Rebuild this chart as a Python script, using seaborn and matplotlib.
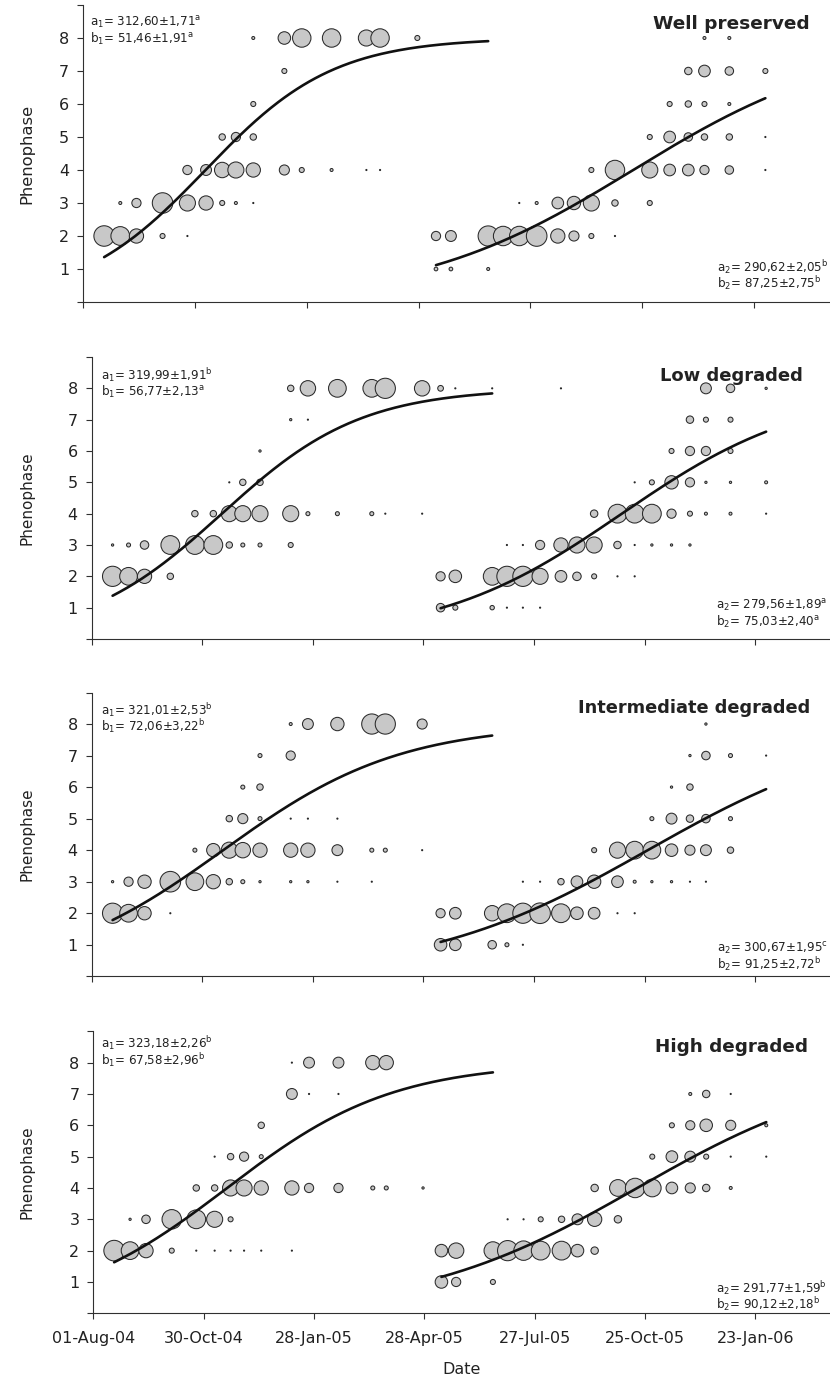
import numpy as np
import pandas as pd
import matplotlib
matplotlib.use("Agg")
import matplotlib.pyplot as plt
import matplotlib.dates as mdates
from matplotlib.ticker import FixedLocator, FixedFormatter
import seaborn as sns

# ---------------------------------------------------------------------------
# Sampling visits shared by the four sites
SAMPLE_DATES = ["2004-08-18", "2004-08-31", "2004-09-13", "2004-10-04", "2004-10-24",
                "2004-11-08", "2004-11-21", "2004-12-02", "2004-12-16", "2005-01-10",
                "2005-01-24", "2005-02-17", "2005-03-17", "2005-03-28", "2005-04-27",
                "2005-05-12", "2005-05-24", "2005-06-23", "2005-07-05", "2005-07-18",
                "2005-08-01", "2005-08-18", "2005-08-31", "2005-09-14", "2005-10-03",
                "2005-10-17", "2005-10-31", "2005-11-16", "2005-12-01", "2005-12-14",
                "2006-01-03", "2006-02-01"]

SITES = ["Well preserved", "Low degraded", "Intermediate degraded", "High degraded"]

# Share of plants (%) in each phenophase at each visit (visit index, phenophase, share)
WELL_VISIT = [8, 9, 10, 11, 12, 13, 14, 9, 8, 6, 7, 8,
              4, 5, 6, 7, 8, 9, 10, 11, 12, 13,
              1, 2, 3, 4, 5, 6, 7, 8, 0, 1, 2, 3, 4,
              29, 30, 28, 29, 30, 31, 27, 28, 29, 30,
              26, 27, 28, 29, 30, 31, 23, 24, 26, 27, 28, 29, 30, 31,
              19, 20, 21, 22, 23, 24, 26,
              15, 16, 17, 18, 19, 20, 21, 22, 23, 24, 15, 16, 17]
WELL_PHASE = [8, 8, 8, 8, 8, 8, 8, 7, 6, 5, 5, 5,
              4, 4, 4, 4, 4, 4, 4, 4, 4, 4,
              3, 3, 3, 3, 3, 3, 3, 3, 2, 2, 2, 2, 2,
              8, 8, 7, 7, 7, 7, 6, 6, 6, 6,
              5, 5, 5, 5, 5, 5, 4, 4, 4, 4, 4, 4, 4, 4,
              3, 3, 3, 3, 3, 3, 3,
              2, 2, 2, 2, 2, 2, 2, 2, 2, 2, 1, 1, 1]
WELL_SHARE = [2.1, 37, 80, 80, 61, 80, 6, 6, 6, 9.7, 20, 9.7,
              20, 28, 56, 61, 48, 24, 6, 2.1, 0.3, 0.3,
              2.1, 20, 99, 61, 48, 6, 2.1, 0.3, 99, 83, 48, 6, 0.3,
              2.1, 2.1, 13, 32, 17, 6, 6, 9.7, 6, 2.1,
              6, 32, 17, 9.7, 9.7, 0.3, 6, 89, 61, 32, 32, 20, 17, 0.3,
              0.3, 2.1, 32, 42, 61, 9.7, 6,
              20, 28, 96, 89, 89, 100, 48, 24, 6, 0.3, 3.2, 3.2, 2.1]

LOW_VISIT = [9, 10, 11, 12, 13, 14, 15, 16, 9, 10, 8, 6, 7, 8,
             4, 5, 6, 7, 8, 9, 10, 11, 12, 13, 14,
             0, 1, 2, 3, 4, 5, 6, 7, 8, 9, 0, 1, 2, 3,
             17, 21, 29, 30, 31, 28, 29, 30, 27, 28, 29, 30,
             25, 26, 27, 28, 29, 30, 31, 23, 24, 25, 26, 27, 28, 29, 30, 31,
             18, 19, 20, 21, 22, 23, 24, 25, 26, 27, 28,
             15, 16, 17, 18, 19, 20, 21, 22, 23, 24, 25,
             15, 16, 17, 18, 19, 20]
LOW_PHASE = [8, 8, 8, 8, 8, 8, 8, 8, 7, 7, 6, 5, 5, 5,
             4, 4, 4, 4, 4, 4, 4, 4, 4, 4, 4,
             3, 3, 3, 3, 3, 3, 3, 3, 3, 3, 2, 2, 2, 2,
             8, 8, 8, 8, 8, 7, 7, 7, 6, 6, 6, 6,
             5, 5, 5, 5, 5, 5, 5, 4, 4, 4, 4, 4, 4, 4, 4, 4,
             3, 3, 3, 3, 3, 3, 3, 3, 3, 3, 3,
             2, 2, 2, 2, 2, 2, 2, 2, 2, 2, 2,
             1, 1, 1, 1, 1, 1]
LOW_SHARE = [9.7, 56, 74, 74, 96, 56, 7.7, 0.3, 1.2, 0.3, 1.2, 0.3, 9.7, 9.7,
             9.7, 9.7, 61, 61, 61, 61, 3.8, 3.8, 3.8, 0.3, 0.3,
             1.2, 3.8, 17, 83, 83, 83, 9.7, 3.8, 3.8, 6, 96, 74, 48, 9.7,
             0.3, 0.3, 28, 17, 1.2, 13, 6, 6, 6, 20, 20, 6,
             0.3, 6, 42, 20, 1.2, 1.2, 2.1, 13, 83, 83, 83, 20, 6, 2.1, 2.1, 0.3,
             0.3, 0.3, 20, 48, 61, 61, 13, 0.3, 1.2, 1.2, 1.2,
             20, 37, 74, 96, 96, 61, 32, 17, 6, 0.3, 0.3,
             17, 6, 4.5, 0.3, 0.3, 0.3]

INTER_VISIT = [9, 10, 11, 12, 13, 14, 8, 9, 7, 8, 6, 7, 8, 9, 10, 11,
               4, 5, 6, 7, 8, 9, 10, 11, 12, 13, 14,
               0, 1, 2, 3, 4, 5, 6, 7, 8, 9, 10, 11, 12, 0, 1, 2, 3,
               29, 28, 29, 30, 31, 27, 28, 26, 27, 28, 29, 30,
               23, 24, 25, 26, 27, 28, 29, 30,
               19, 20, 21, 22, 23, 24, 25, 26, 27, 28, 29,
               15, 16, 17, 18, 19, 20, 21, 22, 23, 24, 25,
               15, 16, 17, 18, 19]
INTER_PHASE = [8, 8, 8, 8, 8, 8, 7, 7, 6, 6, 5, 5, 5, 5, 5, 5,
               4, 4, 4, 4, 4, 4, 4, 4, 4, 4, 4,
               3, 3, 3, 3, 3, 3, 3, 3, 3, 3, 3, 3, 3, 2, 2, 2, 2,
               8, 7, 7, 7, 7, 6, 6, 5, 5, 5, 5, 5,
               4, 4, 4, 4, 4, 4, 4, 4,
               3, 3, 3, 3, 3, 3, 3, 3, 3, 3, 3,
               2, 2, 2, 2, 2, 2, 2, 2, 2, 2, 2,
               1, 1, 1, 1, 1]
INTER_SHARE = [2.1, 28, 42, 96, 96, 24, 3.8, 20, 3.8, 9.7, 9.7, 24, 3.8, 0.3, 0.3, 0.3,
               3.8, 42, 61, 56, 48, 48, 48, 28, 3.8, 3.8, 0.3,
               1.2, 20, 42, 100, 74, 48, 9.7, 3.8, 1.2, 1.2, 1.2, 0.3, 0.3, 96, 74, 42, 0.3,
               1.2, 1.2, 17, 3.8, 0.3, 1.2, 9.7, 3.8, 28, 13, 17, 3.8,
               6, 61, 74, 74, 37, 24, 28, 9.7,
               0.3, 0.3, 9.7, 32, 42, 32, 2.1, 1.2, 1.2, 0.3, 0.3,
               20, 32, 56, 83, 96, 100, 83, 37, 32, 0.3, 0.3,
               37, 32, 17, 3.8, 0.3]

HIGH_VISIT = [9, 10, 11, 12, 13, 9, 10, 11, 8, 5, 6, 7, 8,
              4, 5, 6, 7, 8, 9, 10, 11, 12, 13, 14,
              1, 2, 3, 4, 5, 6, 0, 1, 2, 3, 4, 5, 6, 7, 8, 9,
              28, 29, 30, 27, 28, 29, 30, 31, 26, 27, 28, 29, 30, 31,
              23, 24, 25, 26, 27, 28, 29, 30,
              18, 19, 20, 21, 22, 23, 24,
              15, 16, 17, 18, 19, 20, 21, 22, 23, 15, 16, 17]
HIGH_PHASE = [8, 8, 8, 8, 8, 7, 7, 7, 6, 5, 5, 5, 5,
              4, 4, 4, 4, 4, 4, 4, 4, 4, 4, 4,
              3, 3, 3, 3, 3, 3, 2, 2, 2, 2, 2, 2, 2, 2, 2, 2,
              7, 7, 7, 6, 6, 6, 6, 6, 5, 5, 5, 5, 5, 5,
              4, 4, 4, 4, 4, 4, 4, 4,
              3, 3, 3, 3, 3, 3, 3,
              2, 2, 2, 2, 2, 2, 2, 2, 2, 1, 1, 1]
HIGH_SHARE = [0.3, 28, 28, 48, 48, 28, 0.3, 0.3, 9.7, 0.3, 9.7, 20, 3.8,
              9.7, 9.7, 61, 61, 48, 48, 20, 20, 3.8, 3.8, 1.2,
              1.2, 17, 89, 83, 61, 6, 100, 74, 48, 6, 0.3, 0.3, 0.3, 0.3, 0.3, 0.3,
              2.1, 13, 0.3, 6, 20, 37, 24, 2.1, 6, 32, 28, 6, 0.3, 0.3,
              13, 66, 89, 74, 32, 24, 13, 2.1,
              0.3, 0.3, 6, 9.7, 28, 48, 13,
              37, 56, 74, 96, 89, 83, 83, 37, 13, 37, 20, 6]

# Logistic fits  y = 8 / (1 + exp(-(doy - a) / b)), doy counted from 1 January
A1 = [312.60, 319.99, 321.01, 323.18]
A1_SE = [1.71, 1.91, 2.53, 2.26]
A1_GROUP = ["a", "b", "b", "b"]
B1 = [51.46, 56.77, 72.06, 67.58]
B1_SE = [1.91, 2.13, 3.22, 2.96]
B1_GROUP = ["a", "a", "b", "b"]
A2 = [290.62, 279.56, 300.67, 291.77]
A2_SE = [2.05, 1.89, 1.95, 1.59]
A2_GROUP = ["b", "a", "c", "b"]
B2 = [87.25, 75.03, 91.25, 90.12]
B2_SE = [2.75, 2.40, 2.72, 2.18]
B2_GROUP = ["b", "a", "b", "b"]
MAX_PHASE = 8

SEASON_START = [SAMPLE_DATES[0], SAMPLE_DATES[15]]
SEASON_END = [SAMPLE_DATES[17], SAMPLE_DATES[31]]
SEASON_YEAR = [2004, 2005]

X_TICKS = ["2004-08-01", "2004-10-30", "2005-01-28", "2005-04-28",
           "2005-07-27", "2005-10-25", "2006-01-23"]
X_RANGE = ["2004-08-01", "2006-03-25"]

# ---------------------------------------------------------------------------
sns.set_theme(style="ticks")
plt.rcParams["font.family"] = ["DejaVu Sans"]
plt.rcParams["mathtext.fontset"] = "dejavusans"
plt.rcParams["lines.solid_capstyle"] = "round"

INK = "#222222"
AXIS = "#303030"

W, H = 830, 1382
fig = plt.figure(figsize=(W / 100, H / 100), dpi=100)

# panel frames in pixels: left, top, right, bottom
BOXES = [(83.0, 5.0, 830.0, 302.0),
         (91.7, 357.0, 830.0, 639.0),
         (91.7, 692.5, 830.0, 976.3),
         (93.3, 1031.3, 830.0, 1313.3)]
# text anchors in pixels (x, first baseline, second baseline)
FIT1_POS = [(90.0, 27.0, 42.5), (100.7, 380.0, 396.0), (100.7, 715.0, 731.0), (100.7, 1048.3, 1064.5)]
FIT2_POS = [(716.7, 272.0, 288.0), (716.0, 609.5, 625.5), (716.7, 952.5, 968.5), (716.0, 1293.0, 1309.0)]
TITLE_POS = [(810.0, 29.3), (803.0, 380.7), (810.0, 713.3), (808.0, 1051.7)]
TITLE_SIZE = [13.3, 13.0, 12.8, 13.2]
YLABEL_SIZE = [11.8, 11.0, 11.0, 11.0]

PANELS = [(WELL_VISIT, WELL_PHASE, WELL_SHARE),
          (LOW_VISIT, LOW_PHASE, LOW_SHARE),
          (INTER_VISIT, INTER_PHASE, INTER_SHARE),
          (HIGH_VISIT, HIGH_PHASE, HIGH_SHARE)]


def to_axes(box, px, py):
    l, t, r, b = box
    return (px - l) / (r - l), (b - py) / (b - t)


def fmt(v):
    return f"{v:.2f}".replace(".", ",")


def fit_label(sym, idx, val, se, grp):
    return (rf"{sym}$_{{\mathregular{{{idx}}}}}$= {fmt(val)}±{fmt(se)}"
            rf"$^{{\mathregular{{{grp}}}}}$")


def logistic_curve(start, end, year, a, b):
    days = pd.date_range(start, end, freq="D")
    doy = (days - pd.Timestamp(f"{year}-01-01")).days.values + 1
    return pd.DataFrame({"date": days,
                         "phase": MAX_PHASE / (1.0 + np.exp(-(doy - a) / b))})


dates_all = pd.to_datetime(SAMPLE_DATES)

for i, (site, box, (visit, phase, share)) in enumerate(zip(SITES, BOXES, PANELS)):
    l, t, r, b = box
    ax = fig.add_axes([l / W, 1 - b / H, (r - l) / W, (b - t) / H])

    df = pd.DataFrame({"date": dates_all[np.array(visit)],
                       "phase": phase, "share": share})
    sns.scatterplot(data=df, x="date", y="phase", size="share",
                    sizes=(0, 220), size_norm=(0, 100),
                    color="#c8c8c8", edgecolor="#2a2a2a", linewidth=0.75,
                    legend=False, ax=ax, zorder=2, clip_on=False)

    for s, (a, bb) in enumerate([(A1[i], B1[i]), (A2[i], B2[i])]):
        curve = logistic_curve(SEASON_START[s], SEASON_END[s], SEASON_YEAR[s], a, bb)
        sns.lineplot(data=curve, x="date", y="phase", color="#111111",
                     linewidth=1.9, estimator=None, ax=ax, zorder=3)

    ax.set_xlim(pd.Timestamp(X_RANGE[0]), pd.Timestamp(X_RANGE[1]))
    ax.set_ylim(0, 9)
    ax.yaxis.set_major_locator(FixedLocator(range(0, 10)))
    ax.yaxis.set_major_formatter(FixedFormatter([""] + [str(k) for k in range(1, 9)] + [""]))
    ax.xaxis.set_major_locator(FixedLocator(mdates.date2num(pd.to_datetime(X_TICKS))))
    ax.xaxis.set_major_formatter(mdates.DateFormatter("%d-%b-%y"))

    for side in ("top", "right"):
        ax.spines[side].set_visible(False)
    for side in ("left", "bottom"):
        ax.spines[side].set_color(AXIS)
        ax.spines[side].set_linewidth(0.8)
    ax.tick_params(axis="both", direction="out", length=4, width=0.8,
                   color=AXIS, labelcolor=INK, labelsize=11.5)
    ax.tick_params(axis="y", pad=6)
    ax.tick_params(axis="x", pad=9)

    ax.set_ylabel("Phenophase", fontsize=YLABEL_SIZE[i], color=INK)
    ax.yaxis.set_label_coords((34.0 - l) / (r - l), 0.5)
    if i < 3:
        ax.tick_params(axis="x", labelbottom=False)
        ax.set_xlabel("")
    else:
        ax.set_xlabel("Date", fontsize=11.5, color=INK)
        ax.xaxis.set_label_coords(0.5, (b - 1362.0) / (b - t))

    # site name
    tx, ty = to_axes(box, *TITLE_POS[i])
    ax.text(tx, ty, site, transform=ax.transAxes, ha="right", va="baseline",
            fontsize=TITLE_SIZE[i], fontweight="bold", color=INK)

    # fitted parameters, first and second season
    x1, y1a, y1b = FIT1_POS[i]
    x2, y2a, y2b = FIT2_POS[i]
    lines = [(x1, y1a, fit_label("a", 1, A1[i], A1_SE[i], A1_GROUP[i])),
             (x1, y1b, fit_label("b", 1, B1[i], B1_SE[i], B1_GROUP[i])),
             (x2, y2a, fit_label("a", 2, A2[i], A2_SE[i], A2_GROUP[i])),
             (x2, y2b, fit_label("b", 2, B2[i], B2_SE[i], B2_GROUP[i]))]
    for px, py, txt in lines:
        fx, fy = to_axes(box, px, py)
        ax.text(fx, fy, txt, transform=ax.transAxes, ha="left", va="baseline",
                fontsize=8.6, color=INK)

fig.savefig("out.png", dpi=100)
